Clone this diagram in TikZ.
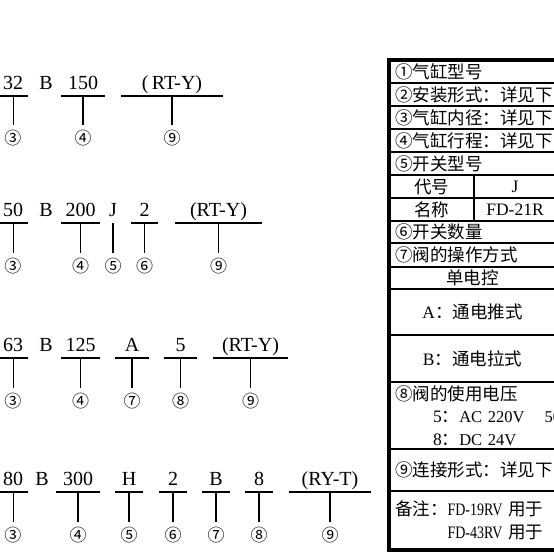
\documentclass[tikz,border=0pt]{standalone}
\usepackage{fontspec}
\setmainfont{Liberation Serif}
\newfontfamily\cjk{Noto Sans CJK SC}
\newfontfamily\narrowserif[FakeStretch=0.8]{Liberation Serif}
\usetikzlibrary{positioning}

\begin{document}
\begin{tikzpicture}[
  x=1pt, y=-1pt,
  node distance=35pt,
  field/.style={inner sep=0pt, outer sep=0pt, text height=14pt, text depth=7pt, anchor=south, font=\fontsize{20}{20}\selectfont},
  num/.style={inner sep=0pt, font=\cjk\fontsize{17}{17}\selectfont},
  bar/.style={line width=1.8pt},
  tick/.style={line width=1.6pt, shorten >=5pt},
  thintick/.style={line width=0.8pt, shorten >=5pt},
  row/.style={draw, line width=1.3pt, inner xsep=6pt, inner ysep=0pt, outer sep=0pt, text width=155pt, align=left, font=\cjk\fontsize{17.5}{22.5}\selectfont},
  cell/.style={draw, line width=1.3pt, inner sep=0pt, outer sep=0pt, font=\cjk\fontsize{17.5}{22.5}\selectfont},
  heavy/.style={line width=2.2pt},
  frame/.style={line width=3.5pt}
  ]
  \useasboundingbox (0,0) rectangle (554,554);
  \clip (0,0) rectangle (554,554);

  % Row 1: 32 B 150 (RT-Y)
  \node[field, minimum width=30pt] (a32) at (13,96) {32};
  \node[field] (ab) at (46,96) {B};
  \node[field, minimum width=44pt] (a150) at (83,96) {150};
  \node[field, minimum width=102pt] (art) at (172,96) {(\,RT-Y)};
  \node[num, below=34pt of a32] (a3) {③};
  \node[num, below=34pt of a150] (a4) {④};
  \node[num, below=34pt of art] (a9) {⑨};
  \draw[bar] (a32.south west) -- (a32.south east);
  \draw[bar] (a150.south west) -- (a150.south east);
  \draw[bar] (art.south west) -- (art.south east);
  \draw[thintick] (a32.south) -- (a3.north);
  \draw[tick] (a150.south) -- (a4.north);
  \draw[tick] (art.south) -- (a9.north);

  % Row 2: 50 B 200 J 2 (RT-Y)
  \node[field, minimum width=30pt] (b50) at (13,223) {50};
  \node[field] (bb) at (46,223) {B};
  \node[field, minimum width=39pt] (b200) at (80.5,223) {200};
  \node[field] (bj) at (113,223) {J};
  \node[field, minimum width=27pt] (b2) at (144.5,223) {2};
  \node[field, minimum width=87pt] (brt) at (218.5,223) {(RT-Y)};
  \node[num, below=of b50] (b3) {③};
  \node[num, below=of b200] (b4) {④};
  \node[num, below=of bj] (b5) {⑤};
  \node[num, below=of b2] (b6) {⑥};
  \node[num, below=of brt] (b9) {⑨};
  \draw[bar] (b50.south west) -- (b50.south east);
  \draw[bar] (b200.south west) -- (b200.south east);
  \draw[bar] (b2.south west) -- (b2.south east);
  \draw[bar] (brt.south west) -- (brt.south east);
  \draw[thintick] (b50.south) -- (b3.north);
  \draw[tick] (b200.south) -- (b4.north);
  \draw[tick] (bj.south) -- (b5.north);
  \draw[tick] (b2.south) -- (b6.north);
  \draw[tick] (brt.south) -- (b9.north);

  % Row 3: 63 B 125 A 5 (RT-Y)
  \node[field, minimum width=30pt] (c63) at (13,358) {63};
  \node[field] (cb) at (46,358) {B};
  \node[field, minimum width=39pt] (c125) at (80.5,358) {125};
  \node[field, minimum width=34pt] (ca) at (132,358) {A};
  \node[field, minimum width=33pt] (c5) at (180.5,358) {5};
  \node[field, minimum width=75pt] (crt) at (250.5,358) {(RT-Y)};
  \node[num, below=of c63] (c3) {③};
  \node[num, below=of c125] (c4) {④};
  \node[num, below=of ca] (c7) {⑦};
  \node[num, below=of c5] (c8) {⑧};
  \node[num, below=of crt] (c9) {⑨};
  \draw[bar] (c63.south west) -- (c63.south east);
  \draw[bar] (c125.south west) -- (c125.south east);
  \draw[bar] (ca.south west) -- (ca.south east);
  \draw[bar] (c5.south west) -- (c5.south east);
  \draw[bar] (crt.south west) -- (crt.south east);
  \draw[thintick] (c63.south) -- (c3.north);
  \draw[tick] (c125.south) -- (c4.north);
  \draw[tick] (ca.south) -- (c7.north);
  \draw[tick] (c5.south) -- (c8.north);
  \draw[tick] (crt.south) -- (c9.north);

  % Row 4: 80 B 300 H 2 B 8 (RY-T)
  \node[field, minimum width=30pt] (d80) at (13,492) {80};
  \node[field] (db) at (42,492) {B};
  \node[field, minimum width=44pt] (d300) at (78,492) {300};
  \node[field, minimum width=28pt] (dh) at (129,492) {H};
  \node[field, minimum width=28pt] (d2) at (173,492) {2};
  \node[field, minimum width=28pt] (dbb) at (216,492) {B};
  \node[field, minimum width=28pt] (d8) at (259,492) {8};
  \node[field, minimum width=82pt] (dry) at (330,492) {(RY-T)};
  \node[num, below=of d80] (d3) {③};
  \node[num, below=of d300] (d4) {④};
  \node[num, below=of dh] (d5) {⑤};
  \node[num, below=of d2] (d6) {⑥};
  \node[num, below=of dbb] (d7) {⑦};
  \node[num, below=of d8] (d8n) {⑧};
  \node[num, below=of dry] (d9) {⑨};
  \draw[bar] (d80.south west) -- (d80.south east);
  \draw[bar] (d300.south west) -- (d300.south east);
  \draw[bar] (dh.south west) -- (dh.south east);
  \draw[bar] (d2.south west) -- (d2.south east);
  \draw[bar] (dbb.south west) -- (dbb.south east);
  \draw[bar] (d8.south west) -- (d8.south east);
  \draw[bar] (dry.south west) -- (dry.south east);
  \draw[thintick] (d80.south) -- (d3.north);
  \draw[tick] (d300.south) -- (d4.north);
  \draw[tick] (dh.south) -- (d5.north);
  \draw[tick] (d2.south) -- (d6.north);
  \draw[tick] (dbb.south) -- (d7.north);
  \draw[tick] (d8.south) -- (d8n.north);
  \draw[tick] (dry.south) -- (d9.north);

  % Table on the right
  \node[row, minimum height=23pt, anchor=north west] (r1) at (389,60) {①气缸型号};
  \node[row, minimum height=23pt, below=0pt of r1] (r2) {②安装形式：详见下};
  \node[row, minimum height=23pt, below=0pt of r2] (r3) {③气缸内径：详见下};
  \node[row, minimum height=23pt, below=0pt of r3] (r4) {④气缸行程：详见下};
  \node[row, minimum height=23pt, below=0pt of r4] (r5) {⑤开关型号};
  \node[cell, minimum width=85pt, minimum height=23pt, anchor=north west] (k1) at (r5.south west) {代号};
  \node[cell, minimum width=82pt, minimum height=23pt, right=0pt of k1] (k2) {\rmfamily J};
  \node[cell, minimum width=85pt, minimum height=23pt, below=0pt of k1] (m1) {名称};
  \node[cell, minimum width=82pt, minimum height=23pt, below=0pt of k2] (m2) {\rmfamily FD-21R};
  \node[row, minimum height=22pt, anchor=north west] (r6) at (m1.south west) {⑥开关数量};
  \node[row, minimum height=24pt, below=0pt of r6] (r7) {⑦阀的操作方式};
  \node[row, minimum height=22pt, align=center, below=0pt of r7] (rs) {单电控};
  \node[row, minimum height=46pt, align=center, below=0pt of rs] (ra) {{\rmfamily A}：通电推式};
  \node[row, minimum height=47pt, align=center, below=0pt of ra] (rb) {{\rmfamily B}：通电拉式};
  \node[row, minimum height=67pt, below=0pt of rb] (r8) {\mbox{⑧阀的使用电压}\\
    \mbox{\hspace*{38pt}{\rmfamily 5}：{\rmfamily\fontsize{16.5}{22.5}\selectfont AC~220V\hspace*{20pt}50}}\\
    \mbox{\hspace*{38pt}{\rmfamily 8}：{\rmfamily\fontsize{16.5}{22.5}\selectfont DC~24V}}};
  \node[row, minimum height=42pt, below=0pt of r8] (r9) {⑨连接形式：详见下};
  \node[row, minimum height=59pt, below=0pt of r9] (rn) {\mbox{备注：{\narrowserif FD-19RV} 用于}\\
    \mbox{\phantom{备注：}{\narrowserif FD-43RV} 用于}};
  \draw[heavy] (ra.north west) -- (ra.north east);
  \draw[heavy] (rb.north west) -- (rb.north east);
  \draw[heavy] (r8.north west) -- (r8.north east);
  \draw[heavy] (r9.north west) -- (r9.north east);
  \draw[frame] (r1.north east) -- (r1.north west) -- (rn.south west) -- (rn.south east);
\end{tikzpicture}
\end{document}
